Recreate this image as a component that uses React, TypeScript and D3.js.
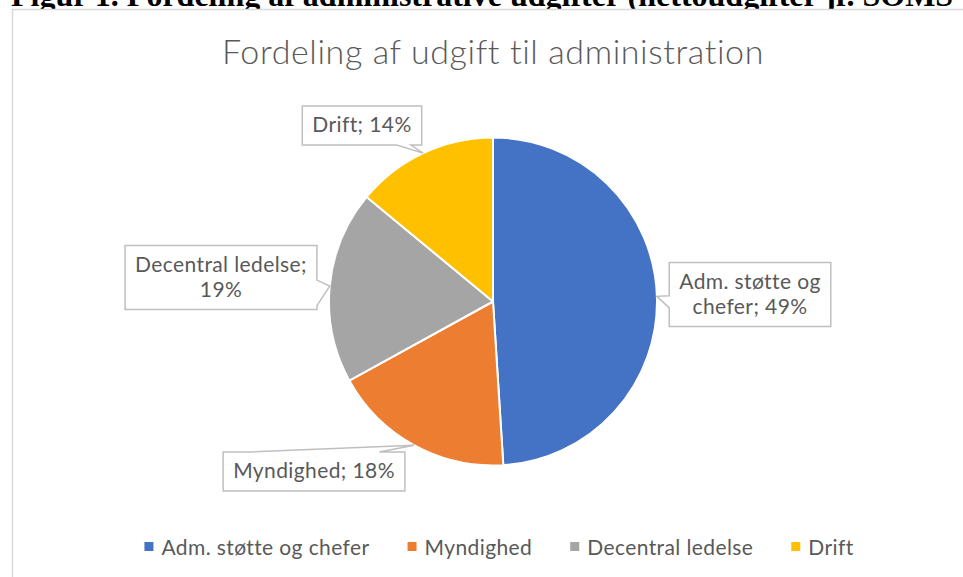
import React, { useEffect, useRef } from "react";
import * as d3 from "d3";

// ---- data ----
const categories = ["Adm. støtte og chefer", "Myndighed", "Decentral ledelse", "Drift"];
const values = [49, 18, 19, 14];
const colors = ["#4472C4", "#ED7D31", "#A5A5A5", "#FFC000"];
const chartTitle = "Fordeling af udgift til administration";
const pageHeading = "Figur 1. Fordeling af administrative udgifter (nettoudgifter jf. SOMS";

// ---- layout (label callouts: box center offset from pie center, pointer side, base fractions, line break) ----
const labelLayout = [
  { dx: 257, dy: -7, side: "left", base: [0.52, 0.71], breakAfter: 3 },
  { dx: -179, dy: 170, side: "top", base: [0.15, 0.86], breakAfter: 0 },
  { dx: -272, dy: -24, side: "right", base: [0.54, 0.94], breakAfter: 2 },
  { dx: -131, dy: -176, side: "bottom", base: [0.79, 0.91], breakAfter: 0 },
];

const W = 963;
const H = 577;
const FONT = "Lato, 'Noto Sans', sans-serif";
const TEXT = "#595959";

export default function App() {
  const ref = useRef<SVGSVGElement | null>(null);

  useEffect(() => {
    const svg = d3.select(ref.current);
    svg.selectAll("*").remove();

    // page heading (cut off at top)
    svg.append("text")
      .attr("x", 11).attr("y", 6)
      .attr("font-family", "'Liberation Serif', 'Times New Roman', serif")
      .attr("font-weight", "bold").attr("font-size", 32)
      .attr("fill", "#000")
      .text(pageHeading);

    // chart area border
    svg.append("rect")
      .attr("x", 12.5).attr("y", 9.5).attr("width", 1000).attr("height", 700)
      .attr("fill", "#fff").attr("stroke", "#d9d9d9").attr("stroke-width", 1.5);

    // title
    svg.append("text")
      .attr("x", 493).attr("y", 64).attr("text-anchor", "middle")
      .attr("font-family", FONT).attr("font-weight", 300).attr("font-size", 34)
      .attr("letter-spacing", 0.6)
      .attr("fill", TEXT).text(chartTitle);

    const cx = 493, cy = 301.5, r = 164;
    const pie = d3.pie<number>().sort(null).value((d) => d);
    const arcs = pie(values);
    const arc = d3.arc<d3.PieArcDatum<number>>().innerRadius(0).outerRadius(r);

    const g = svg.append("g").attr("transform", `translate(${cx},${cy})`);
    g.selectAll("path.slice").data(arcs).enter().append("path")
      .attr("class", "slice")
      .attr("d", arc as any)
      .attr("fill", (_d, i) => colors[i])
      .attr("stroke", "#fff").attr("stroke-width", 2).attr("stroke-linejoin", "round");

    // labels
    const fs = 21, ls = 0.4, lh = 25, padX = 10, padY = 7;
    arcs.forEach((a, i) => {
      const L = labelLayout[i];
      const words = `${categories[i]}; ${values[i]}%`.split(" ");
      const lines = L.breakAfter > 0
        ? [words.slice(0, L.breakAfter).join(" "), words.slice(L.breakAfter).join(" ")]
        : [words.join(" ")];
      const lg = svg.append("g");
      const tmp = lg.append("g");
      const widths = lines.map((ln) => {
        const t = tmp.append("text").attr("font-family", FONT).attr("font-size", fs)
          .attr("letter-spacing", ls).text(ln);
        return (t.node() as SVGTextElement).getComputedTextLength();
      });
      tmp.remove();
      const bw = Math.max(...widths) + padX * 2;
      const bh = lines.length * lh + padY * 2;
      const bx = cx + L.dx - bw / 2, by = cy + L.dy - bh / 2;
      const mid = (a.startAngle + a.endAngle) / 2;
      const tip: [number, number] = [cx + r * Math.sin(mid), cy - r * Math.cos(mid)];
      const x0 = bx, y0 = by, x1 = bx + bw, y1 = by + bh;
      const p: string[] = [`M${x0},${y0}`];
      if (L.side === "top") {
        p.push(`L${x0 + bw * L.base[0]},${y0}`, `L${tip[0]},${tip[1]}`, `L${x0 + bw * L.base[1]},${y0}`);
      }
      p.push(`L${x1},${y0}`);
      if (L.side === "right") {
        p.push(`L${x1},${y0 + bh * L.base[0]}`, `L${tip[0]},${tip[1]}`, `L${x1},${y0 + bh * L.base[1]}`);
      }
      p.push(`L${x1},${y1}`);
      if (L.side === "bottom") {
        p.push(`L${x0 + bw * L.base[1]},${y1}`, `L${tip[0]},${tip[1]}`, `L${x0 + bw * L.base[0]},${y1}`);
      }
      p.push(`L${x0},${y1}`);
      if (L.side === "left") {
        p.push(`L${x0},${y0 + bh * L.base[1]}`, `L${tip[0]},${tip[1]}`, `L${x0},${y0 + bh * L.base[0]}`);
      }
      p.push("Z");
      lg.append("path").attr("d", p.join(" "))
        .attr("fill", "#fff").attr("stroke", "#bfbfbf").attr("stroke-width", 1.5);
      lines.forEach((ln, k) => {
        lg.append("text")
          .attr("x", bx + bw / 2).attr("y", by + padY + lh * k + 19)
          .attr("text-anchor", "middle")
          .attr("font-family", FONT).attr("font-size", fs).attr("letter-spacing", ls)
          .attr("fill", TEXT)
          .text(ln);
      });
    });

    // legend
    const leg = svg.append("g");
    const sq = 9, gapSq = 8, gapItem = 38, ly = 555;
    const items = categories.map((c, i) => {
      const ig = leg.append("g");
      ig.append("rect").attr("width", sq).attr("height", sq).attr("y", ly - 13).attr("fill", colors[i]);
      const t = ig.append("text").attr("x", sq + gapSq).attr("y", ly)
        .attr("font-family", FONT).attr("font-size", fs).attr("letter-spacing", ls)
        .attr("fill", TEXT).text(c);
      const w = sq + gapSq + (t.node() as SVGTextElement).getComputedTextLength();
      return { ig, w };
    });
    const total = d3.sum(items, (d) => d.w) + gapItem * (items.length - 1);
    let x = 499 - total / 2;
    items.forEach((it) => {
      it.ig.attr("transform", `translate(${x},0)`);
      x += it.w + gapItem;
    });
  }, []);

  return (
    <svg
      ref={ref}
      width={W}
      height={H}
      style={{ position: "absolute", left: 0, top: 0, background: "#fff", overflow: "hidden" }}
    />
  );
}
